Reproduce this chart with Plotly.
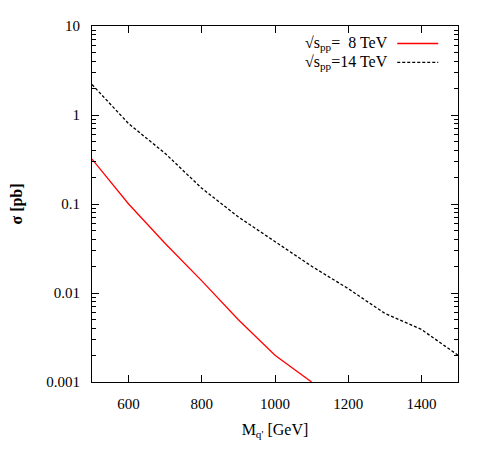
import plotly.graph_objects as go

# masa del quark (GeV) y secciones eficaces (pb)
mass_8 = [500, 600, 700, 800, 900, 1000, 1100]
sigma_8 = [0.32, 0.1, 0.036, 0.0137, 0.005, 0.002, 0.001]

mass_14 = [500, 600, 700, 800, 900, 1000, 1100, 1200, 1300, 1400, 1500]
sigma_14 = [2.2, 0.8, 0.37, 0.15, 0.0715, 0.0375, 0.02, 0.0112, 0.0059, 0.0039, 0.002]

y_ticks = [10, 1, 0.1, 0.01, 0.001]
y_labels = ["10", "1", "0.1", "0.01", "0.001"]
y_minor = [k * 10.0 ** e for e in range(-3, 1) for k in range(2, 10)]
x_ticks = [600, 800, 1000, 1200, 1400]

labels = ["√s<sub>pp</sub>=  8 TeV", "√s<sub>pp</sub>=14 TeV"]

font = "Liberation Serif, Times New Roman, serif"

fig = go.Figure()
fig.add_trace(go.Scatter(x=mass_8, y=sigma_8, mode="lines",
                         line=dict(color="#ff0000", width=1.3), showlegend=False))
fig.add_trace(go.Scatter(x=mass_14, y=sigma_14, mode="lines",
                         line=dict(color="black", width=1.3, dash="3px,2px"), showlegend=False))

# leyenda a mano: texto a la izquierda, muestra de linea a la derecha
rows = [(0.951, dict(color="#ff0000", width=1.5)),
        (0.898, dict(color="black", width=1.3, dash="3px,2px"))]
for (yp, ln), txt in zip(rows, labels):
    fig.add_annotation(x=0.815, y=yp, xref="paper", yref="paper", text=txt,
                       showarrow=False, xanchor="right", yanchor="middle",
                       font=dict(family=font, size=16, color="black"))
    fig.add_shape(type="line", xref="paper", yref="paper",
                  x0=0.834, x1=0.946, y0=yp, y1=yp, line=ln)

axis_common = dict(showline=True, linecolor="black", linewidth=1.2, mirror="allticks",
                   ticks="inside", ticklen=7, tickwidth=1.2, tickcolor="black", showgrid=False,
                   zeroline=False, ticklabelstandoff=8, automargin=False,
                   tickfont=dict(family=font, size=15, color="black"))

fig.update_xaxes(range=[500, 1500], tickvals=x_ticks,
                 title=dict(text="M<sub>q'</sub> [GeV]", font=dict(family=font, size=16, color="black"),
                            standoff=12),
                 **axis_common)
fig.update_yaxes(type="log", range=[-3, 1], tickvals=y_ticks, ticktext=y_labels,
                 minor=dict(ticks="inside", ticklen=4, tickwidth=1, tickcolor="black", showgrid=False,
                            tickmode="array", tickvals=y_minor),
                 title=dict(text="<b>σ [pb]</b>", font=dict(family=font, size=16, color="black"),
                            standoff=24),
                 **axis_common)

# el cuerpo de la pagina tiene 8px de margen
fig.update_layout(width=477, height=455, plot_bgcolor="white", paper_bgcolor="white",
                  margin=dict(l=84, r=27, t=18, b=81), showlegend=False)

fig.write_html("out.html")
